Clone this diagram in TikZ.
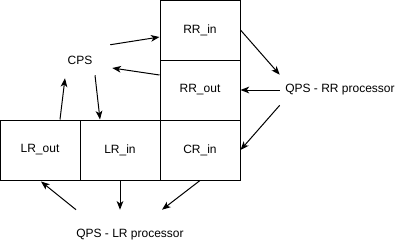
\documentclass[tikz,border=0pt]{standalone}
\usepackage{fontspec}
\setmainfont{Liberation Sans}
\usetikzlibrary{arrows.meta,calc}
\begin{document}
\begin{tikzpicture}[x=0.75pt,y=-0.75pt,
  cell/.style={draw,line width=0.75pt,minimum width=60pt,minimum height=45pt,
    inner sep=0pt,font=\fontsize{9}{11}\selectfont},
  label/.style={inner sep=0pt,minimum width=45pt,minimum height=22.5pt,
    font=\fontsize{9}{11}\selectfont},
  flow/.style={line width=0.75pt,-{Stealth[length=6.5pt,width=5pt,inset=1.8pt]}}]
\useasboundingbox (0,0) rectangle (401,251);
% register cells
\node[cell] (RRin)  at (200,30)  {RR\_in};
\node[cell] (RRout) at (200,90)  {RR\_out};
\node[cell] (LRout) at (40,150)  {LR\_out};
\node[cell] (LRin)  at (120,150) {LR\_in};
\node[cell] (CRin)  at (200,150) {CR\_in};
% processors
\node[label] (CPS) at (80,60) {CPS};
\node[label,minimum width=90pt] (QPSRR) at (340,90) {QPS - RR processor};
\node[label,minimum width=60pt,minimum height=37.5pt] (QPSLR) at (130,235) {QPS - LR processor};
% CPS links
\draw[flow] (CPS.north east) -- ($(RRin.west)+(0,7)$);
\draw[flow] ($(RRout.west)+(0,-15)$) -- ($(CPS.east)+(2,8)$);
\draw[flow] ($(LRout.north)+(20,0)$) -- ($(CPS.south)+(-15,3)$);
\draw[flow] ($(CPS.south)+(15,0)$) -- ($(LRin.north)+(-20,0)$);
% RR processor links
\draw[flow] (RRin.east) -- (QPSRR.north west);
\draw[flow] (QPSRR.west) -- (RRout.east);
\draw[flow] (QPSRR.south west) -- (CRin.east);
% LR processor links
\draw[flow] (QPSLR.north west) -- ($(LRout.south)+(1,1)$);
\draw[flow] (LRin.south) -- ($(QPSLR.north)+(-10,0)$);
\draw[flow] (CRin.south) -- ($(QPSLR.north)+(32,0)$);
\end{tikzpicture}
\end{document}
